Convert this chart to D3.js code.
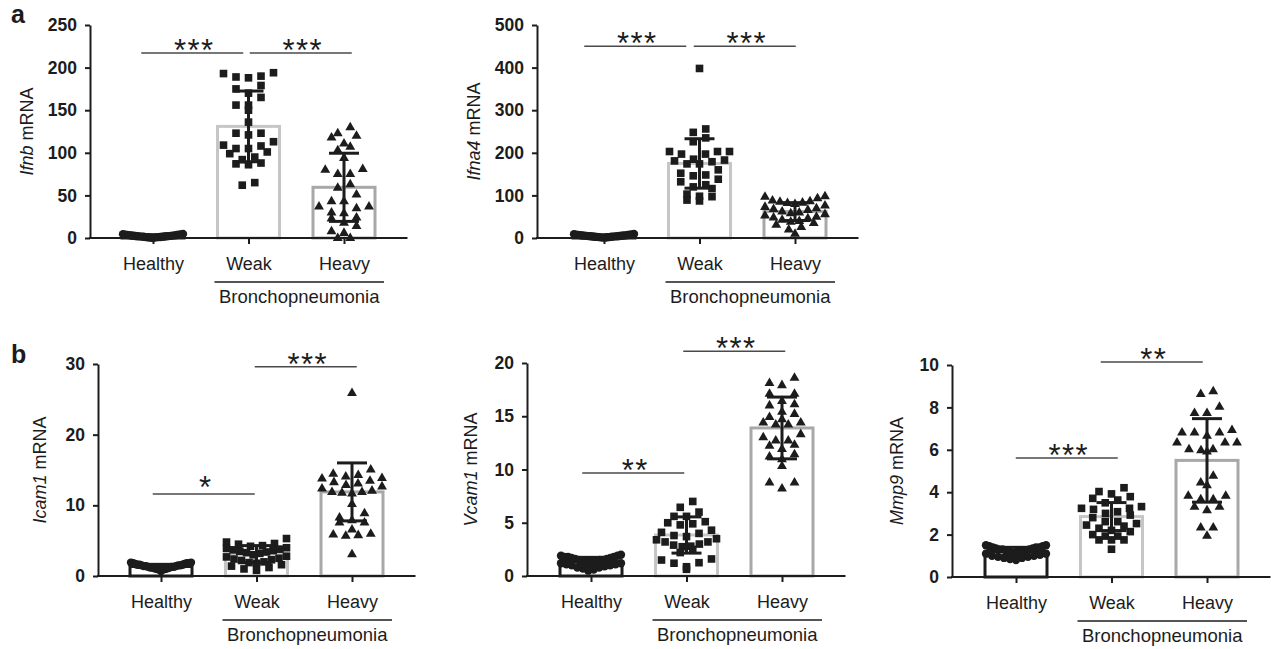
<!DOCTYPE html>
<html>
<head>
<meta charset="utf-8">
<script src="https://cdn.jsdelivr.net/npm/d3@7"></script>
<style>
  body { margin: 0; background: #fff; }
  svg { display: block; font-family: "Liberation Sans", Arial, Helvetica, sans-serif; }
</style>
</head>
<body>
<script>
// Dot plots with mean +/- SD bars, five genes, three groups each.

const categories = ['Healthy', 'Weak', 'Heavy'];
const groupLabel = 'Bronchopneumonia';

// --- Ifnb (a, left)
const ifnbTicks   = [0, 50, 100, 150, 200, 250];
const ifnbHealthy = [4.8, 4.5, 4.2, 4.0, 3.8, 3.6, 3.5, 3.3, 3.1, 3.0, 2.8, 2.7, 2.5, 2.4, 2.2,
                     2.1, 2.0, 1.9, 1.8, 1.6, 1.5, 1.4, 1.2, 1.1, 1.0, 0.9, 0.8, 0.6, 0.5, 0.3];
const ifnbWeak    = [190, 188, 194, 193, 189, 179, 170, 175, 165, 156, 156, 150, 136, 123, 121,
                     123, 113, 108, 105, 101, 105, 109, 99, 92, 86, 87, 88, 95, 62, 65];
const ifnbHeavy   = [131, 119, 124, 121, 108, 104, 112, 95, 81, 82, 76, 76, 64, 60, 52,
                     44, 38, 36, 38, 44, 30, 31, 24, 19, 25, 15, 7, 9, 1, 1];
const ifnbMean    = [2.5, 131, 59.5];
const ifnbSd      = [1.2, 41.5, 40];
const ifnbSig     = [['Healthy', 'Weak', '***', 217], ['Weak', 'Heavy', '***', 217]];

// --- Ifna4 (a, right)
const ifna4Ticks   = [0, 100, 200, 300, 400, 500];
const ifna4Healthy = [9.5, 9, 8.5, 8, 7.5, 7.2, 7, 6.6, 6.2, 6, 5.8, 5.5, 5.2, 5, 4.8,
                      4.5, 4.2, 4, 3.8, 3.5, 3.2, 3, 2.8, 2.5, 2.2, 2, 1.8, 1.5, 1.2, 0.8];
const ifna4Weak    = [398, 256, 248, 235, 226, 203, 203, 203, 197, 197, 185, 183, 181, 179, 174,
                      174, 160, 152, 148, 146, 138, 132, 125, 120, 116, 103, 98, 97, 89, 87];
const ifna4Heavy   = [100, 99, 95, 90, 88, 87, 85, 84, 82, 78, 75, 72, 70, 68, 64,
                      62, 60, 58, 55, 52, 50, 48, 45, 42, 40, 37, 33, 28, 22, 12];
const ifna4Mean    = [4.5, 175, 62];
const ifna4Sd      = [2.2, 58, 21];
const ifna4Sig     = [['Healthy', 'Weak', '***', 450], ['Weak', 'Heavy', '***', 450]];

// --- Icam1 (b, left)
const icam1Ticks   = [0, 10, 20, 30];
const icam1Healthy = [1.9, 1.9, 1.8, 1.8, 1.8, 1.7, 1.7, 1.6, 1.6, 1.5, 1.5, 1.5, 1.4, 1.4, 1.4,
                      1.3, 1.3, 1.3, 1.2, 1.2, 1.1, 1.1, 1.0, 1.0, 0.9, 0.9, 0.8, 0.7, 1.6, 1.2];
const icam1Weak    = [5.3, 4.8, 4.6, 4.5, 4.3, 4.2, 4.0, 3.9, 3.8, 3.7, 3.6, 3.5, 3.4, 3.3, 3.2,
                      3.0, 2.8, 2.7, 2.5, 2.4, 2.3, 2.2, 2.0, 1.9, 1.8, 1.6, 1.4, 1.2, 1.0, 0.8];
const icam1Heavy   = [26.0, 15.2, 14.6, 14.4, 14.2, 14.0, 13.9, 13.6, 13.4, 13.2, 13.0, 12.8, 12.5, 12.2, 12.0,
                      12.0, 11.9, 11.8, 10.3, 9.0, 8.4, 8.0, 7.7, 7.7, 6.7, 6.1, 6.0, 5.9, 5.8, 3.2];
const icam1Mean    = [1.35, 3.1, 11.9];
const icam1Sd      = [0.3, 1.2, 4.1];
const icam1Sig     = [['Healthy', 'Weak', '*', 11.6], ['Weak', 'Heavy', '***', 29.6]];

// --- Vcam1 (b, middle)
const vcam1Ticks   = [0, 5, 10, 15, 20];
const vcam1Healthy = [2.0, 1.9, 1.9, 1.8, 1.8, 1.8, 1.7, 1.7, 1.6, 1.6, 1.5, 1.5, 1.5, 1.4, 1.4,
                      1.4, 1.3, 1.3, 1.2, 1.2, 1.1, 1.1, 1.0, 1.0, 0.9, 0.8, 0.8, 0.7, 0.6, 0.5];
const vcam1Weak    = [7.0, 6.45, 6.0, 5.6, 5.6, 5.1, 5.0, 4.9, 4.8, 4.3, 4.1, 4.0, 3.8, 3.7, 3.5,
                      3.4, 3.2, 3.2, 3.0, 2.9, 2.8, 2.75, 2.5, 2.2, 1.6, 1.5, 1.25, 1.2, 0.87, 0.63];
const vcam1Heavy   = [18.7, 18.0, 18.2, 17.2, 17.2, 16.5, 16.1, 16.2, 15.3, 15.5, 15.0, 14.8, 14.5, 14.5, 14.3,
                      14.3, 13.4, 12.8, 12.4, 12.0, 12.3, 12.8, 13.1, 11.5, 11.05, 10.4, 11.3, 8.85, 8.3, 8.85];
const vcam1Mean    = [1.35, 3.85, 13.9];
const vcam1Sd      = [0.4, 1.7, 2.9];
const vcam1Sig     = [['Healthy', 'Weak', '**', 9.67], ['Weak', 'Heavy', '***', 21.1]];

// --- Mmp9 (b, right)
const mmp9Ticks   = [0, 2, 4, 6, 8, 10];
const mmp9Healthy = [1.5, 1.5, 1.45, 1.45, 1.4, 1.4, 1.4, 1.35, 1.35, 1.3, 1.3, 1.3, 1.25, 1.25, 1.2,
                     1.2, 1.2, 1.15, 1.15, 1.1, 1.1, 1.05, 1.0, 1.0, 0.95, 0.95, 0.9, 0.9, 0.85, 0.8];
const mmp9Weak    = [4.21, 4.03, 3.92, 3.79, 3.71, 3.63, 3.5, 3.32, 3.24, 3.24, 3.19, 3.08, 3.0, 2.92, 2.8,
                     2.61, 2.61, 2.52, 2.45, 2.4, 2.3, 2.2, 2.14, 2.0, 1.93, 1.93, 1.75, 1.75, 1.75, 1.31];
const mmp9Heavy   = [8.8, 8.67, 8.07, 7.77, 7.77, 6.97, 6.86, 6.86, 6.86, 6.7, 6.38, 6.38, 6.38, 6.07, 6.07,
                     6.02, 5.96, 4.81, 4.5, 4.37, 3.87, 3.87, 3.71, 3.71, 3.35, 3.35, 3.19, 2.37, 2.37, 1.98];
const mmp9Mean    = [1.2, 2.85, 5.5];
const mmp9Sd      = [0.2, 0.66, 1.97];
const mmp9Sig     = [['Healthy', 'Weak', '***', 5.61], ['Weak', 'Heavy', '**', 10.14]];

// ---------------------------------------------------------------------------
// Look and layout.

const width = 1271, height = 649;
const ink = '#1c1c1c';
const barStroke = ['#1c1c1c', '#c6c6c6', '#a8a8a8'];
const shapes = [d3.symbolCircle, d3.symbolSquare, d3.symbolTriangle];
const shapeSizes = [55, 58, 42];

const step = 95.5;     // distance between category centres
const barW = 62;       // bar width (stroke centre to stroke centre)
const capW = 30;       // error bar cap
const sigLen = 102;    // significance line length

// left = y axis x, c0 = first category centre, bottom/top = y of 0 / max tick
const layout = {
  ifnb:  { left: 90,  c0: 153,  bottom: 238, top: 25,  labelX: 33,  sigShift: [-8.5, 4.5] },
  ifna4: { left: 537, c0: 604,  bottom: 238, top: 25,  labelX: 480, sigShift: [-16.5, -2.5] },
  icam1: { left: 98,  c0: 161,  bottom: 576, top: 364, labelX: 46,  sigShift: [-5, 1.5] },
  vcam1: { left: 527, c0: 591,  bottom: 576, top: 363, labelX: 477, sigShift: [-5.5, 0] },
  mmp9:  { left: 952, c0: 1016, bottom: 577, top: 365, labelX: 903, sigShift: [3, -7.5] }
};

const panels = [
  { key: 'ifnb',  gene: 'Ifnb',  ticks: ifnbTicks,  groups: [ifnbHealthy, ifnbWeak, ifnbHeavy],    mean: ifnbMean,  sd: ifnbSd,  sig: ifnbSig },
  { key: 'ifna4', gene: 'Ifna4', ticks: ifna4Ticks, groups: [ifna4Healthy, ifna4Weak, ifna4Heavy], mean: ifna4Mean, sd: ifna4Sd, sig: ifna4Sig },
  { key: 'icam1', gene: 'Icam1', ticks: icam1Ticks, groups: [icam1Healthy, icam1Weak, icam1Heavy], mean: icam1Mean, sd: icam1Sd, sig: icam1Sig },
  { key: 'vcam1', gene: 'Vcam1', ticks: vcam1Ticks, groups: [vcam1Healthy, vcam1Weak, vcam1Heavy], mean: vcam1Mean, sd: vcam1Sd, sig: vcam1Sig },
  { key: 'mmp9',  gene: 'Mmp9',  ticks: mmp9Ticks,  groups: [mmp9Healthy, mmp9Weak, mmp9Heavy],    mean: mmp9Mean,  sd: mmp9Sd,  sig: mmp9Sig }
];

const svg = d3.select('body').append('svg')
  .attr('width', width)
  .attr('height', height);

// Rough GraphPad-like scatter: group points into rows of similar height,
// spread each row sideways, lowest values in the middle.
function swarmOffsets(values, y, spacing, maxHalf, rowH) {
  let offsets = new Array(values.length).fill(0);
  let order = d3.range(values.length).sort((a, b) => values[b] - values[a]);
  let row = [], rowTop = null;

  let flush = function() {
    if (!row.length) return;
    let n = row.length;
    let s = n > 1 ? Math.min(spacing, 2 * maxHalf / (n - 1)) : 0;
    let sorted = row.slice().sort((a, b) => values[a] - values[b]);
    let slots = d3.range(n)
      .map(k => (k - (n - 1) / 2) * s)
      .sort((a, b) => Math.abs(a) - Math.abs(b) || a - b);
    sorted.forEach((id, k) => { offsets[id] = slots[k]; });
    row = [];
  };

  order.forEach(id => {
    let py = y(values[id]);
    if (rowTop === null || py - rowTop > rowH) { flush(); rowTop = py; }
    row.push(id);
  });
  flush();
  return offsets;
}

function drawPanel(p) {
  const L = layout[p.key];
  const y = d3.scaleLinear().domain([0, d3.max(p.ticks)]).range([L.bottom, L.top]);
  const x = d3.scalePoint().domain(categories).range([L.c0, L.c0 + 2 * step]);
  const xEnd = L.c0 + 2 * step + 63.5;
  const g = svg.append('g').attr('class', 'panel ' + p.key);

  // Bars (mean)
  g.selectAll('rect.bar').data(categories).join('rect')
    .attr('class', 'bar')
    .attr('x', d => x(d) - barW / 2)
    .attr('width', barW)
    .attr('y', (d, i) => y(p.mean[i]))
    .attr('height', (d, i) => L.bottom - y(p.mean[i]))
    .attr('fill', '#fff')
    .attr('stroke', (d, i) => barStroke[i])
    .attr('stroke-width', 3);

  // Points
  p.groups.forEach((vals, i) => {
    let offs = swarmOffsets(vals, y, 12.5, 30, 8);
    let sym = d3.symbol().type(shapes[i]).size(shapeSizes[i]);
    g.append('g').selectAll('path').data(vals).join('path')
      .attr('d', sym)
      .attr('transform', (d, k) => `translate(${x(categories[i]) + offs[k]},${y(d) + (i == 2 ? 1 : 0)})`)
      .attr('fill', ink);
  });

  // Error bars (mean +/- SD)
  categories.forEach((c, i) => {
    let cx = x(c);
    let hi = y(p.mean[i] + p.sd[i]);
    let lo = y(Math.max(0, p.mean[i] - p.sd[i]));
    let eb = g.append('g').attr('stroke', ink).attr('stroke-width', 3);
    eb.append('line').attr('x1', cx).attr('x2', cx).attr('y1', hi).attr('y2', lo);
    eb.append('line').attr('x1', cx - capW / 2).attr('x2', cx + capW / 2).attr('y1', hi).attr('y2', hi);
    eb.append('line').attr('x1', cx - capW / 2).attr('x2', cx + capW / 2).attr('y1', lo).attr('y2', lo);
  });

  // Y axis
  const yAxis = g.append('g')
    .attr('transform', `translate(${L.left},0)`)
    .call(d3.axisLeft(y).tickValues(p.ticks).tickSize(5).tickPadding(8).tickSizeOuter(0));
  yAxis.select('.domain').attr('stroke', ink).attr('stroke-width', 2);
  yAxis.selectAll('.tick line').attr('stroke', ink).attr('stroke-width', 2);
  yAxis.selectAll('.tick text')
    .attr('fill', ink)
    .attr('font-size', 17.5)
    .attr('font-weight', 'bold')
    .attr('font-family', '"Liberation Sans", Arial, sans-serif');

  // X axis
  g.append('line')
    .attr('x1', L.left - 1).attr('x2', xEnd)
    .attr('y1', L.bottom).attr('y2', L.bottom)
    .attr('stroke', ink).attr('stroke-width', 2);
  const xAxis = g.append('g')
    .attr('transform', `translate(0,${L.bottom})`)
    .call(d3.axisBottom(x).tickSize(6).tickPadding(13));
  xAxis.select('.domain').remove();
  xAxis.selectAll('.tick line').attr('stroke', ink).attr('stroke-width', 2);
  xAxis.selectAll('.tick text')
    .attr('fill', ink)
    .attr('font-size', 18)
    .attr('font-family', '"Liberation Sans", Arial, sans-serif');

  // Bronchopneumonia bracket
  let bx1 = x('Weak') - 34, bx2 = x('Heavy') + 40;
  g.append('line')
    .attr('x1', bx1).attr('x2', bx2)
    .attr('y1', L.bottom + 44).attr('y2', L.bottom + 44)
    .attr('stroke', ink).attr('stroke-width', 1.5);
  g.append('text')
    .attr('x', (bx1 + bx2) / 2).attr('y', L.bottom + 65)
    .attr('text-anchor', 'middle')
    .attr('font-size', 18.5)
    .attr('fill', ink)
    .text(groupLabel);

  // Y label
  let midY = (L.bottom + L.top) / 2;
  let lab = g.append('text')
    .attr('transform', `translate(${L.labelX},${midY}) rotate(-90)`)
    .attr('text-anchor', 'middle')
    .attr('font-size', 18)
    .attr('fill', ink);
  lab.append('tspan').attr('font-style', 'italic').text(p.gene);
  lab.append('tspan').text(' mRNA');

  // Significance
  p.sig.forEach((s, k) => {
    let mid = (x(s[0]) + x(s[1])) / 2 + L.sigShift[k];
    let ly = y(s[3]);
    g.append('line')
      .attr('x1', mid - sigLen / 2).attr('x2', mid + sigLen / 2)
      .attr('y1', ly).attr('y2', ly)
      .attr('stroke', '#4a4a4a').attr('stroke-width', 1.5);
    g.append('text')
      .attr('x', mid + 2).attr('y', ly + (s[2].length == 1 ? 4 : 8))
      .attr('text-anchor', 'middle')
      .attr('font-size', 31)
      .attr('letter-spacing', 1.5)
      .attr('fill', ink)
      .text(s[2]);
  });
}

panels.forEach(drawPanel);

// Panel letters
svg.append('text').attr('x', 11).attr('y', 23)
  .attr('font-size', 25).attr('font-weight', 'bold').attr('fill', ink).text('a');
svg.append('text').attr('x', 11).attr('y', 363)
  .attr('font-size', 25).attr('font-weight', 'bold').attr('fill', ink).text('b');
</script>
</body>
</html>
